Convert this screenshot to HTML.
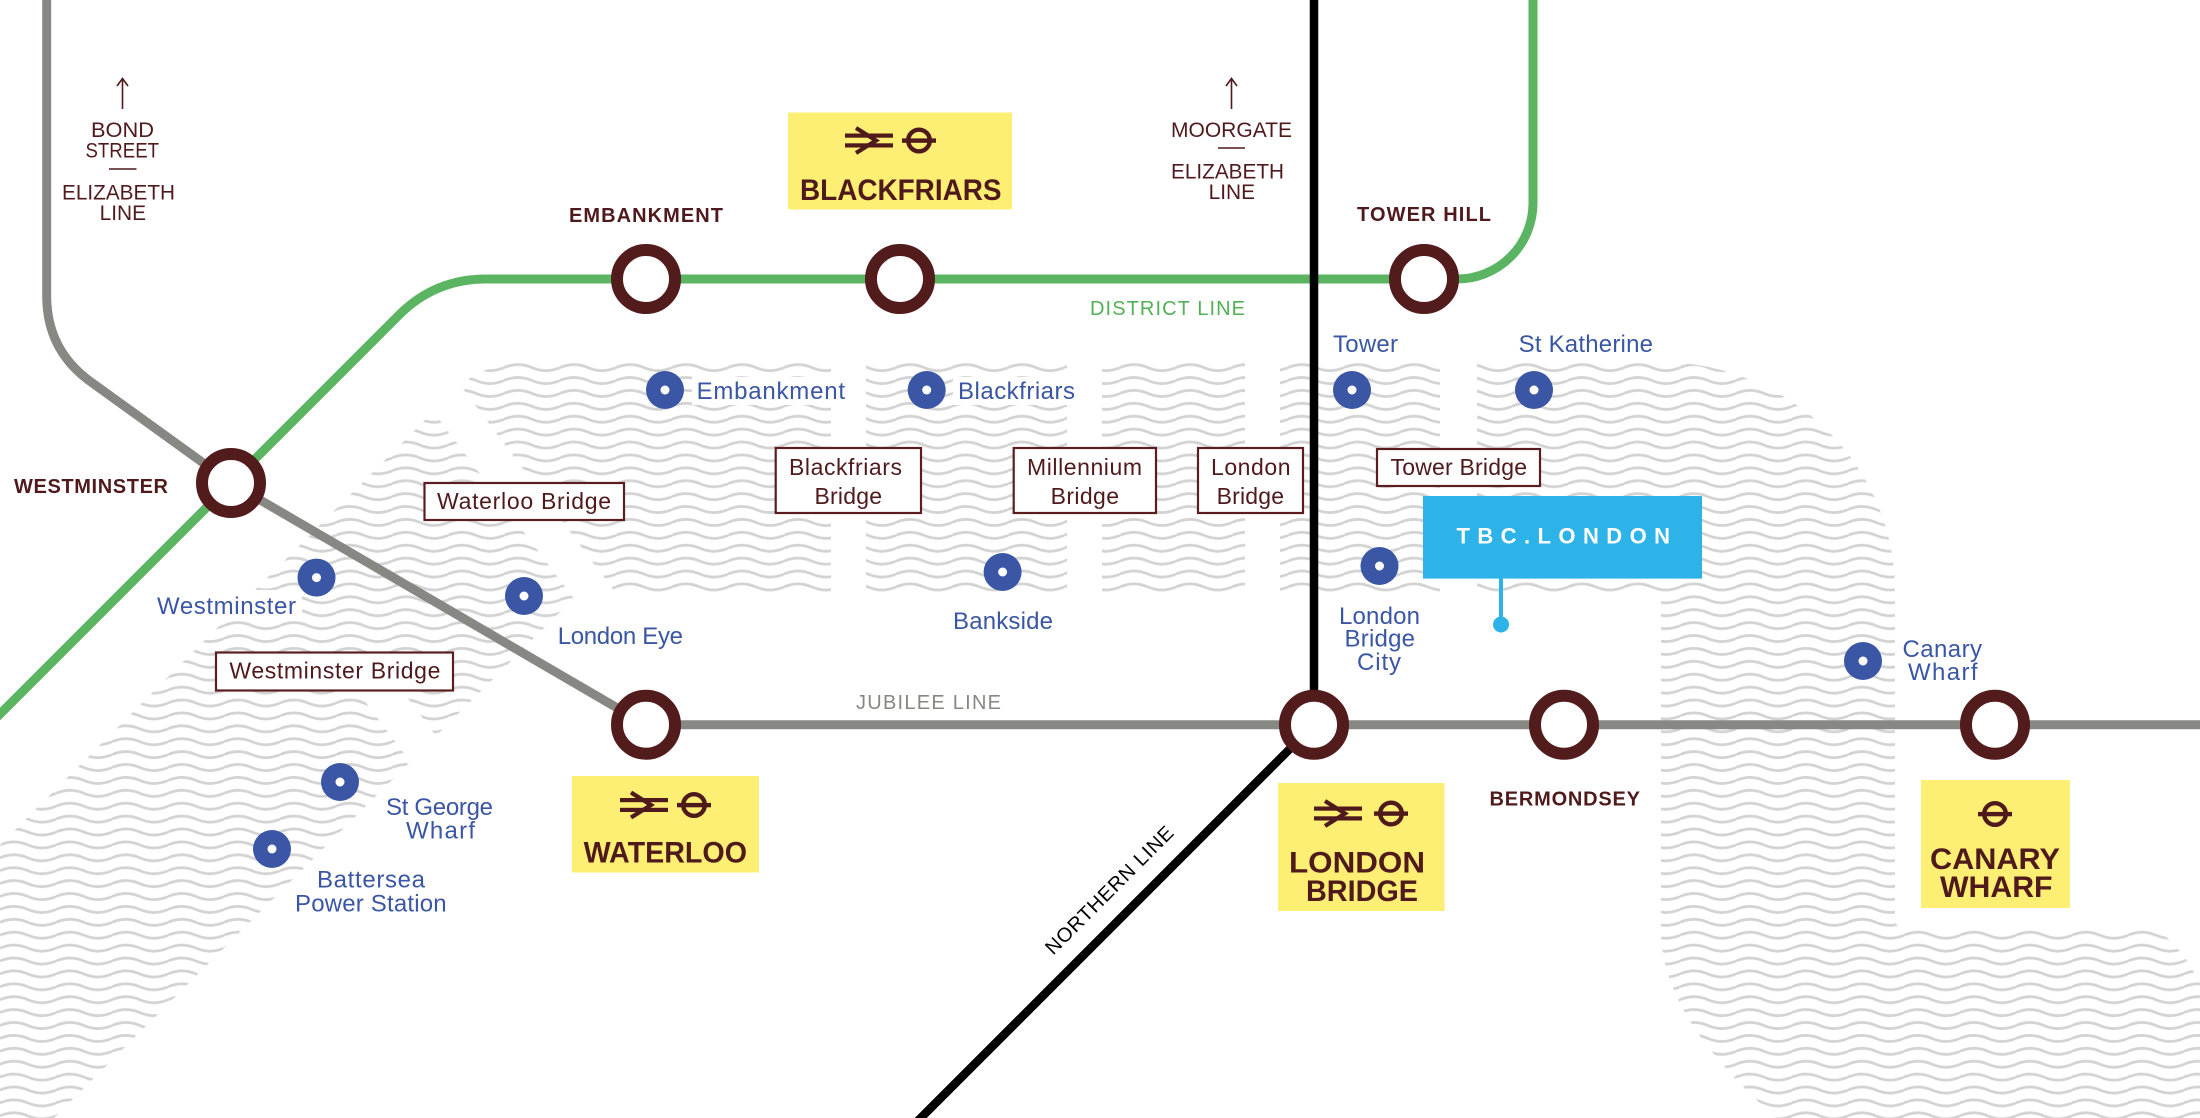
<!DOCTYPE html>
<html>
<head>
<meta charset="utf-8">
<style>
  html,body{margin:0;padding:0;background:#fff;}
  svg{display:block;}
  text{font-family:"Liberation Sans", sans-serif;}
</style>
</head>
<body>
<svg width="2200" height="1118" viewBox="0 0 2200 1118" xmlns="http://www.w3.org/2000/svg">
  <defs>
    <pattern id="waves" patternUnits="userSpaceOnUse" x="0" y="0" width="56" height="12.9">
      <path d="M0 6.45 C 9.33 2.45 18.67 2.45 28 6.45 C 37.33 10.45 46.67 10.45 56 6.45" fill="none" stroke="#d3d3d3" stroke-width="2.8"/>
    </pattern>
    <g id="rail">
      <rect x="0" y="6.5" width="48" height="4.2" fill="#4f1a1c"/>
      <rect x="0" y="16.3" width="48" height="4.2" fill="#4f1a1c"/>
      <polyline points="11,1 31,13.5 11,26" fill="none" stroke="#4f1a1c" stroke-width="4.2"/>
    </g>
    <g id="roundel">
      <circle cx="17" cy="13.5" r="10.8" fill="none" stroke="#4f1a1c" stroke-width="4.4"/>
      <rect x="0" y="11.4" width="34" height="4.4" fill="#4f1a1c"/>
    </g>
  </defs>

  <rect width="2200" height="1118" fill="#fff"/>

  <!-- River -->
  <path d="M 0 845 L 451 394 Q 481 362 530 362 L 1660 362 C 1789 362 1895 465 1895 590 L 1895 918 Q 1895 928 1905 928 L 2150 928 Q 2175 935 2200 983 L 2200 1118 L 1776 1118 C 1700 1050 1661 990 1661 930 L 1661 595 L 577 595 L 54 1118 L 0 1118 Z" fill="url(#waves)"/>

  <!-- Bridge gaps -->
  <polygon points="372,330 419,330 651,640 605,640" fill="#fff"/>
  <polygon points="355,688 400,688 460,768 415,768" fill="#fff"/>
  <rect x="831" y="350" width="35" height="255" fill="#fff"/>
  <rect x="1067" y="350" width="35" height="255" fill="#fff"/>
  <rect x="1245" y="350" width="35" height="255" fill="#fff"/>
  <rect x="1440" y="350" width="37" height="255" fill="#fff"/>

  <!-- text knockouts -->
  <rect x="692" y="377" width="158" height="28" fill="#fff"/>
  <rect x="953" y="377" width="127" height="28" fill="#fff"/>
  <rect x="152" y="590" width="150" height="30" fill="#fff"/>

  <!-- Lines -->
  <path d="M 46.7 -5 L 46.7 296 Q 46.7 350 90.5 381.6 L 231 483 L 646 724.7 L 2205 724.7" fill="none" stroke="#878883" stroke-width="9" stroke-linejoin="round"/>
  <path d="M -5 719 L 399 315 Q 435 279 486 279 L 1457 279 A 76 76 0 0 0 1533 203 L 1533 -5" fill="none" stroke="#5bb461" stroke-width="9" stroke-linejoin="round"/>
  <path d="M 1314 -5 L 1314 724.7 L 914 1124.7" fill="none" stroke="#000" stroke-width="8.5"/>

  <!-- TBC pointer -->
  <line x1="1501" y1="570" x2="1501" y2="624" stroke="#2db3e8" stroke-width="4"/>
  <circle cx="1501" cy="624.5" r="8" fill="#2db3e8"/>

  <!-- Big stations -->
  <g fill="#fff" stroke="#521b1c" stroke-width="12">
    <circle cx="231" cy="483" r="29"/>
    <circle cx="646" cy="279" r="29"/>
    <circle cx="900" cy="279" r="29"/>
    <circle cx="1424" cy="279" r="29"/>
    <circle cx="646" cy="724.7" r="29"/>
    <circle cx="1314" cy="724.7" r="29"/>
    <circle cx="1564" cy="724.7" r="29"/>
    <circle cx="1995" cy="724.7" r="29"/>
  </g>

  <!-- Pier dots -->
  <g fill="#3a56a4">
    <circle cx="665" cy="390" r="19"/>
    <circle cx="926.7" cy="390" r="19"/>
    <circle cx="1352" cy="390" r="19"/>
    <circle cx="1534" cy="390" r="19"/>
    <circle cx="316.5" cy="577.6" r="19"/>
    <circle cx="524" cy="596" r="19"/>
    <circle cx="1002.6" cy="572" r="19"/>
    <circle cx="1379.5" cy="566" r="19"/>
    <circle cx="340" cy="782" r="19"/>
    <circle cx="272" cy="849" r="19"/>
    <circle cx="1863" cy="661" r="19"/>
  </g>
  <g fill="#fff">
    <circle cx="665" cy="390" r="4.5"/>
    <circle cx="926.7" cy="390" r="4.5"/>
    <circle cx="1352" cy="390" r="4.5"/>
    <circle cx="1534" cy="390" r="4.5"/>
    <circle cx="316.5" cy="577.6" r="4.5"/>
    <circle cx="524" cy="596" r="4.5"/>
    <circle cx="1002.6" cy="572" r="4.5"/>
    <circle cx="1379.5" cy="566" r="4.5"/>
    <circle cx="340" cy="782" r="4.5"/>
    <circle cx="272" cy="849" r="4.5"/>
    <circle cx="1863" cy="661" r="4.5"/>
  </g>

  <!-- Bridge boxes -->
  <g fill="#fff" stroke="#5a1e20" stroke-width="2.2">
    <rect x="424.5" y="483" width="199.5" height="37"/>
    <rect x="216" y="652.5" width="237" height="38"/>
    <rect x="775.7" y="448" width="145.3" height="65"/>
    <rect x="1013.7" y="448" width="142.3" height="65"/>
    <rect x="1198" y="448" width="105" height="65"/>
    <rect x="1377" y="449" width="163" height="37"/>
  </g>
  <g fill="#4f1a1c" font-size="23">
    <text x="437" y="509" textLength="174">Waterloo Bridge</text>
    <text x="229.4" y="678.5" textLength="211">Westminster Bridge</text>
    <text x="789" y="475" textLength="113">Blackfriars</text>
    <text x="814.5" y="504" textLength="67.5">Bridge</text>
    <text x="1027" y="475" textLength="115">Millennium</text>
    <text x="1050.6" y="504" textLength="68.4">Bridge</text>
    <text x="1211" y="475" textLength="79.5">London</text>
    <text x="1216.6" y="504" textLength="67.4">Bridge</text>
    <text x="1390.5" y="475" textLength="136.5">Tower Bridge</text>
  </g>

  <!-- Yellow boxes -->
  <g fill="#fdef74">
    <rect x="788" y="112.5" width="224" height="97"/>
    <rect x="572" y="776" width="187" height="96.5"/>
    <rect x="1278" y="783" width="166.6" height="128"/>
    <rect x="1921" y="780" width="149" height="128"/>
  </g>
  <use href="#rail" x="845" y="127"/>
  <use href="#roundel" x="902" y="127"/>
  <use href="#rail" x="620" y="791.5"/>
  <use href="#roundel" x="677" y="791.5"/>
  <use href="#rail" x="1314" y="800"/>
  <use href="#roundel" x="1374" y="800"/>
  <use href="#roundel" x="1978" y="800.5"/>
  <g fill="#4f1a1c" font-size="30" font-weight="bold">
    <text x="800" y="200" textLength="201.5" lengthAdjust="spacingAndGlyphs">BLACKFRIARS</text>
    <text x="583.6" y="862.6" textLength="163.4" lengthAdjust="spacingAndGlyphs">WATERLOO</text>
    <text x="1289" y="872.5" textLength="136" lengthAdjust="spacingAndGlyphs">LONDON</text>
    <text x="1306" y="901" textLength="112" lengthAdjust="spacingAndGlyphs">BRIDGE</text>
    <text x="1930" y="869" textLength="130" lengthAdjust="spacingAndGlyphs">CANARY</text>
    <text x="1940" y="897" textLength="112.5" lengthAdjust="spacingAndGlyphs">WHARF</text>
  </g>

  <!-- TBC box -->
  <rect x="1423" y="496" width="279" height="82.6" fill="#2db3e8"/>
  <text x="1456.5" y="543.6" font-size="22" font-weight="bold" fill="#fff" textLength="213.5">TBC.LONDON</text>

  <!-- Station names maroon -->
  <g fill="#4f1a1c" font-size="20" font-weight="bold">
    <text x="569" y="222" textLength="154">EMBANKMENT</text>
    <text x="1357" y="221" textLength="134">TOWER HILL</text>
    <text x="14" y="493" textLength="154">WESTMINSTER</text>
    <text x="1489.5" y="805.5" textLength="150.5">BERMONDSEY</text>
  </g>

  <!-- Off-map references -->
  <g stroke="#4f1a1c" stroke-width="1.6" fill="none">
    <line x1="122.5" y1="109" x2="122.5" y2="79"/>
    <polyline points="117,86 122.5,78.5 128,86"/>
    <line x1="109" y1="169" x2="136.5" y2="169"/>
    <line x1="1231.5" y1="109" x2="1231.5" y2="79"/>
    <polyline points="1226,86 1231.5,78.5 1237,86"/>
    <line x1="1218" y1="148" x2="1245" y2="148"/>
  </g>
  <g fill="#4f1a1c" font-size="21">
    <text x="91" y="137" textLength="63" lengthAdjust="spacingAndGlyphs">BOND</text>
    <text x="85.5" y="157.5" textLength="73.5" lengthAdjust="spacingAndGlyphs">STREET</text>
    <text x="62" y="199.5" textLength="113" lengthAdjust="spacingAndGlyphs">ELIZABETH</text>
    <text x="99.6" y="220" textLength="46.4" lengthAdjust="spacingAndGlyphs">LINE</text>
    <text x="1171" y="137" textLength="121" lengthAdjust="spacingAndGlyphs">MOORGATE</text>
    <text x="1171" y="178.6" textLength="113" lengthAdjust="spacingAndGlyphs">ELIZABETH</text>
    <text x="1208.6" y="199" textLength="46.4" lengthAdjust="spacingAndGlyphs">LINE</text>
  </g>

  <!-- Line names -->
  <text x="1090" y="315" font-size="20" fill="#52b056" textLength="155">DISTRICT LINE</text>
  <text x="856" y="709" font-size="20" fill="#878883" textLength="145">JUBILEE LINE</text>
  <text transform="translate(1114 895) rotate(-45)" x="0" y="0" text-anchor="middle" font-size="20" fill="#000" textLength="172">NORTHERN LINE</text>

  <!-- Pier labels -->
  <g fill="#3a56a4" font-size="24">
    <text x="696.6" y="399" textLength="148.4">Embankment</text>
    <text x="958" y="399" textLength="117">Blackfriars</text>
    <text x="1333" y="352" textLength="65">Tower</text>
    <text x="1518.6" y="352" textLength="134.4">St Katherine</text>
    <text x="157" y="614" textLength="139">Westminster</text>
    <text x="557.7" y="644" textLength="125.3">London Eye</text>
    <text x="953" y="629" textLength="100">Bankside</text>
    <text x="1339" y="624" textLength="81">London</text>
    <text x="1344.5" y="646.5" textLength="70.5">Bridge</text>
    <text x="1357" y="670" textLength="44">City</text>
    <text x="386" y="815" textLength="107">St George</text>
    <text x="406" y="838.5" textLength="69">Wharf</text>
    <text x="317" y="887.5" textLength="108">Battersea</text>
    <text x="295" y="911.5" textLength="151.6">Power Station</text>
    <text x="1902.5" y="657" textLength="79.5">Canary</text>
    <text x="1908" y="680" textLength="69.5">Wharf</text>
  </g>
</svg>
</body>
</html>
